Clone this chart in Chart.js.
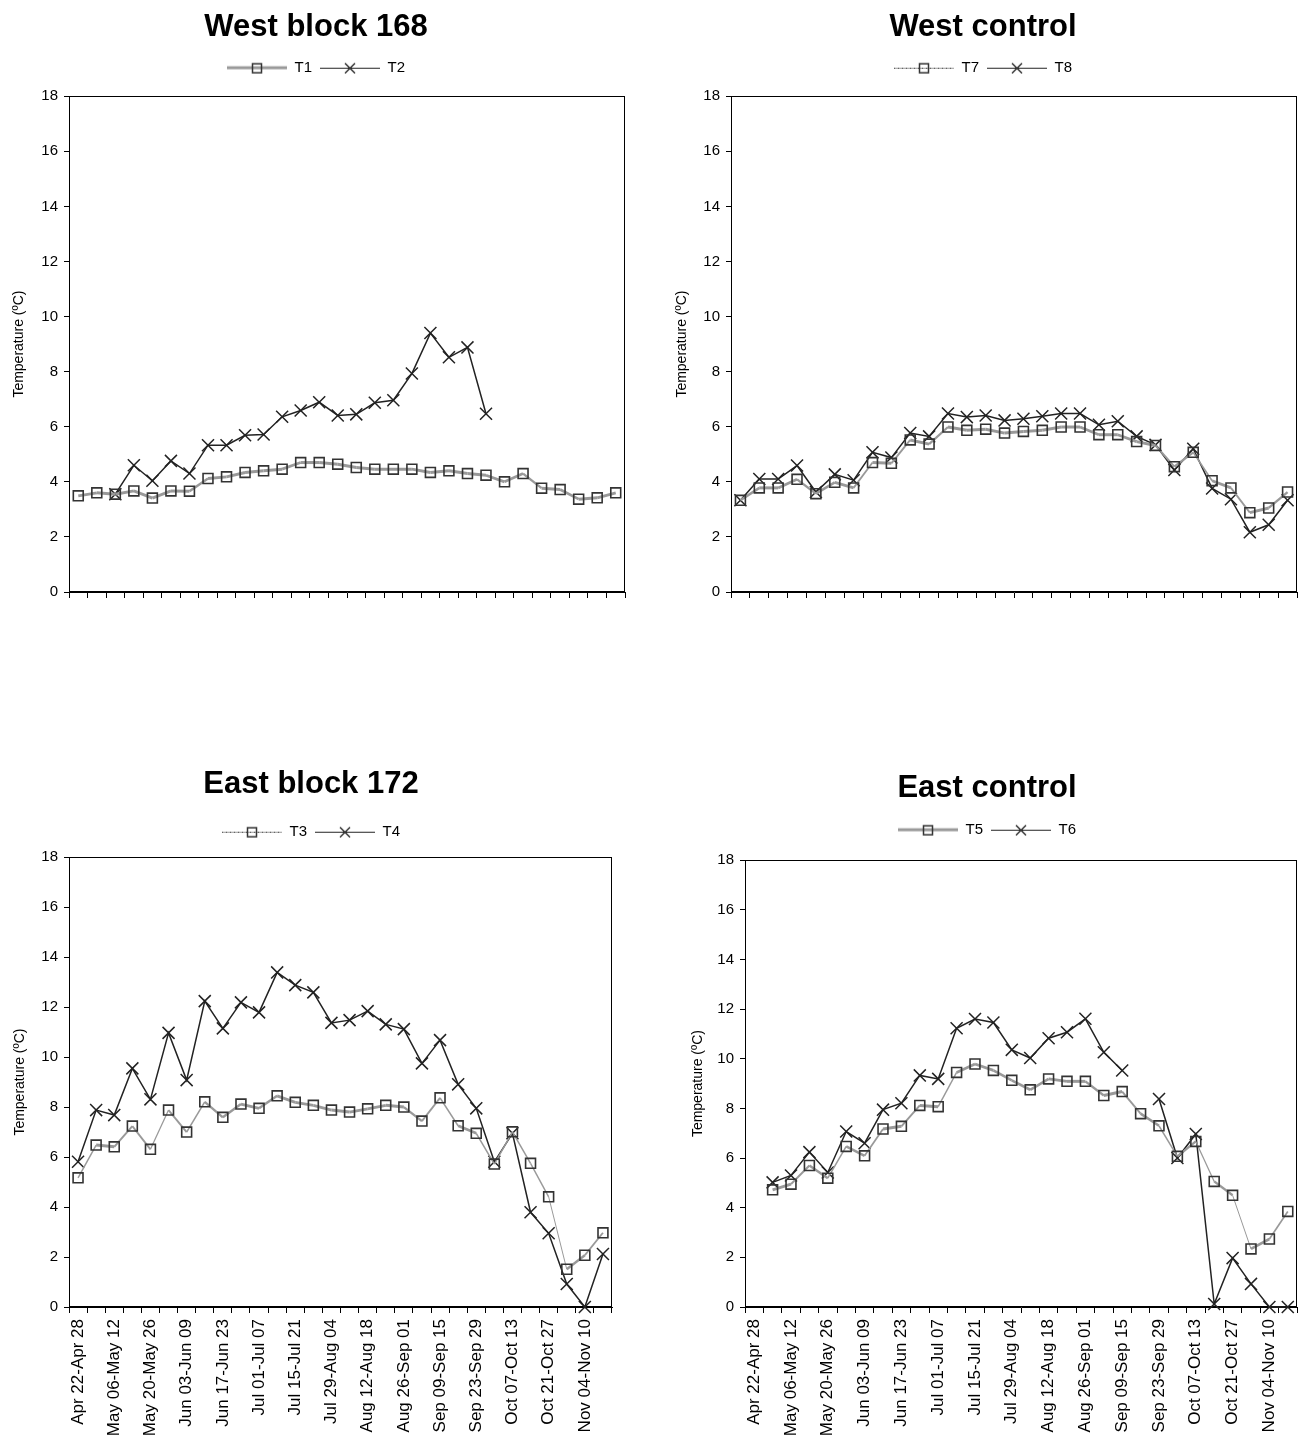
<!DOCTYPE html>
<html>
<head>
<meta charset="utf-8">
<title>Temperature by week</title>
<script src="https://cdn.jsdelivr.net/npm/chart.js@4.4.1/dist/chart.umd.min.js"></script>
<style>
  body { margin: 0; background: #fff; width: 1307px; height: 1437px; position: relative; overflow: hidden; }
  .panel { position: absolute; }
</style>
</head>
<body>
<div class="panel" style="left:0;top:0"><canvas id="westBlock" width="640" height="610"></canvas></div>
<div class="panel" style="left:660px;top:0"><canvas id="westControl" width="647" height="610"></canvas></div>
<div class="panel" style="left:0;top:760px"><canvas id="eastBlock" width="640" height="677"></canvas></div>
<div class="panel" style="left:660px;top:760px"><canvas id="eastControl" width="647" height="677"></canvas></div>
<script>
    // Weekly periods (30 weeks, every other one labelled on the bottom charts)
    const weeks = [
        'Apr 22-Apr 28', 'Apr 29-May 05', 'May 06-May 12', 'May 13-May 19', 'May 20-May 26',
        'May 27-Jun 02', 'Jun 03-Jun 09', 'Jun 10-Jun 16', 'Jun 17-Jun 23', 'Jun 24-Jun 30',
        'Jul 01-Jul 07', 'Jul 08-Jul 14', 'Jul 15-Jul 21', 'Jul 22-Jul 28', 'Jul 29-Aug 04',
        'Aug 05-Aug 11', 'Aug 12-Aug 18', 'Aug 19-Aug 25', 'Aug 26-Sep 01', 'Sep 02-Sep 08',
        'Sep 09-Sep 15', 'Sep 16-Sep 22', 'Sep 23-Sep 29', 'Sep 30-Oct 06', 'Oct 07-Oct 13',
        'Oct 14-Oct 20', 'Oct 21-Oct 27', 'Oct 28-Nov 03', 'Nov 04-Nov 10', 'Nov 11-Nov 17'
    ];

    const yTicks = [0, 2, 4, 6, 8, 10, 12, 14, 16, 18];

    // West block 168
    const t1 = [3.49, 3.60, 3.55, 3.67, 3.41, 3.67, 3.66, 4.12, 4.18, 4.34, 4.40, 4.46, 4.70, 4.70, 4.64,
                4.52, 4.46, 4.46, 4.46, 4.34, 4.40, 4.30, 4.24, 4.00, 4.30, 3.77, 3.72, 3.37, 3.42, 3.60];
    const t2 = [null, null, 3.55, 4.60, 4.04, 4.76, 4.30, 5.33, 5.33, 5.69, 5.72, 6.36, 6.59, 6.89, 6.41,
                6.45, 6.87, 6.96, 7.93, 9.40, 8.52, 8.88, 6.47, null, null, null, null, null, null, null];

    // West control
    const t7 = [3.33, 3.78, 3.78, 4.09, 3.57, 3.98, 3.78, 4.70, 4.67, 5.52, 5.37, 5.99, 5.87, 5.91, 5.77,
                5.83, 5.87, 5.99, 5.99, 5.71, 5.71, 5.46, 5.32, 4.55, 5.07, 4.04, 3.78, 2.88, 3.05, 3.63];
    const t8 = [3.33, 4.10, 4.10, 4.59, 3.63, 4.27, 4.06, 5.07, 4.88, 5.77, 5.65, 6.48, 6.35, 6.41, 6.23,
                6.29, 6.38, 6.48, 6.48, 6.07, 6.20, 5.65, 5.34, 4.43, 5.20, 3.76, 3.37, 2.17, 2.44, 3.33];

    // East block 172
    const t3 = [5.17, 6.48, 6.41, 7.24, 6.31, 7.88, 7.00, 8.21, 7.59, 8.12, 7.95, 8.45, 8.19, 8.07, 7.88,
                7.80, 7.93, 8.07, 8.00, 7.44, 8.37, 7.25, 6.95, 5.72, 7.01, 5.75, 4.41, 1.51, 2.07, 2.97];
    const t4 = [5.81, 7.88, 7.68, 9.55, 8.31, 10.97, 9.08, 12.24, 11.15, 12.19, 11.79, 13.39, 12.88, 12.59, 11.37,
                11.48, 11.84, 11.31, 11.12, 9.75, 10.68, 8.91, 7.95, 5.81, 6.95, 3.79, 2.95, 0.92, 0, 2.12];

    // East control
    const t5 = [null, 4.72, 4.95, 5.70, 5.19, 6.47, 6.09, 7.17, 7.28, 8.12, 8.07, 9.45, 9.79, 9.53, 9.13,
                8.75, 9.19, 9.09, 9.09, 8.52, 8.68, 7.79, 7.30, 6.07, 6.67, 5.06, 4.50, 2.34, 2.74, 3.85];
    const t6 = [null, 5.02, 5.30, 6.24, 5.42, 7.07, 6.60, 7.95, 8.21, 9.33, 9.19, 11.23, 11.60, 11.46, 10.36,
                10.03, 10.83, 11.07, 11.61, 10.26, 9.53, null, 8.38, 6.00, 6.97, 0.12, 1.97, 0.93, 0, 0];

    Chart.defaults.font.family = '"Liberation Sans", Arial, sans-serif';
    Chart.defaults.color = '#000';

    // small legend pictures: line sample with the marker in the middle
    function legendIcon(kind) {
        const c = document.createElement('canvas');
        c.width = 60;
        c.height = 16;
        const g = c.getContext('2d');
        if (kind === 'thick') {
            g.strokeStyle = '#999';
            g.lineWidth = 3;
            g.beginPath(); g.moveTo(0, 8); g.lineTo(60, 8); g.stroke();
        } else if (kind === 'dotted') {
            g.strokeStyle = '#999';
            g.lineWidth = 1;
            g.beginPath(); g.moveTo(0, 8.5); g.lineTo(60, 8.5); g.stroke();
            g.strokeStyle = '#333';
            g.setLineDash([1, 3]);
            g.beginPath(); g.moveTo(0, 8.5); g.lineTo(60, 8.5); g.stroke();
            g.setLineDash([]);
        } else {
            g.strokeStyle = '#222';
            g.lineWidth = 1;
            g.beginPath(); g.moveTo(0, 8.5); g.lineTo(60, 8.5); g.stroke();
        }
        g.strokeStyle = '#333';
        g.lineWidth = 1.5;
        if (kind === 'cross') {
            g.beginPath();
            g.moveTo(25, 3.5); g.lineTo(35, 13.5);
            g.moveTo(35, 3.5); g.lineTo(25, 13.5);
            g.stroke();
        } else {
            g.strokeRect(25.5, 4, 9, 9);
        }
        return c;
    }

    // excel-like gray line: thinner on steep segments
    function slopeWidth(ctx) {
        const dx = ctx.p1.x - ctx.p0.x;
        const dy = ctx.p1.y - ctx.p0.y;
        return Math.max(1, 3 * Math.abs(dx) / Math.hypot(dx, dy));
    }

    function squareSeries(label, data, icon) {
        return {
            label: label,
            data: data,
            icon: icon,
            borderColor: '#999',
            borderWidth: 3,
            segment: { borderWidth: slopeWidth },
            pointStyle: 'rect',
            pointRadius: 7,
            pointBorderColor: '#333',
            pointBackgroundColor: 'rgba(0,0,0,0)',
            pointBorderWidth: 1.6,
            tension: 0,
            clip: false
        };
    }

    function crossSeries(label, data) {
        return {
            label: label,
            data: data,
            icon: 'cross',
            borderColor: '#222',
            borderWidth: 1.5,
            pointStyle: 'crossRot',
            pointRadius: 8.5,
            pointBorderColor: '#222',
            pointBorderWidth: 1.5,
            tension: 0,
            clip: false
        };
    }

    const plotFrame = {
        id: 'plotFrame',
        beforeDatasetsDraw(chart) {
            const a = chart.chartArea;
            const ctx = chart.ctx;
            ctx.save();
            ctx.strokeStyle = '#000';
            ctx.lineWidth = 1;
            ctx.strokeRect(Math.round(a.left) + 0.5, Math.round(a.top) + 0.5,
                Math.round(a.right - a.left) - 1, Math.round(a.bottom - a.top) - 1);
            ctx.restore();
        }
    };

    // extra room under the legend, before the plot
    const legendGap = {
        id: 'legendGap',
        beforeInit(chart, args, opts) {
            const fit = chart.legend.fit;
            chart.legend.fit = function () {
                fit.call(this);
                this.height += opts.extra || 0;
            };
        }
    };

    function makeChart(id, title, datasets, o) {
        const icons = {};
        ['thick', 'dotted', 'cross'].forEach(k => icons[k] = legendIcon(k));
        return new Chart(document.getElementById(id), {
            type: 'line',
            data: { labels: weeks, datasets: datasets },
            plugins: [plotFrame, legendGap],
            options: {
                responsive: false,
                animation: false,
                events: [],
                layout: { padding: { left: o.padLeft, right: o.padRight, top: 0, bottom: o.padBottom } },
                plugins: {
                    legendGap: { extra: o.legendExtra },
                    tooltip: { enabled: false },
                    title: {
                        display: true,
                        text: title,
                        font: { size: 31, weight: 'bold' },
                        color: '#000',
                        padding: { top: o.titleTop, bottom: o.titleBottom }
                    },
                    legend: {
                        display: true,
                        labels: {
                            usePointStyle: true,
                            pointStyleWidth: 60,
                            boxHeight: 15,
                            padding: 8,
                            font: { size: 15 },
                            color: '#000',
                            generateLabels(chart) {
                                const items = Chart.defaults.plugins.legend.labels.generateLabels(chart);
                                items.forEach(it => {
                                    it.pointStyle = icons[chart.data.datasets[it.datasetIndex].icon];
                                });
                                return items;
                            }
                        }
                    }
                },
                scales: {
                    x: {
                        type: 'category',
                        offset: true,
                        grid: { offset: true, drawOnChartArea: false, drawTicks: true, tickLength: 6, color: '#000' },
                        border: { display: true, color: '#000', width: 1 },
                        ticks: {
                            display: o.xLabels,
                            autoSkip: false,
                            minRotation: 90,
                            maxRotation: 90,
                            padding: 6,
                            font: { size: 17 },
                            color: '#000',
                            callback: function (value, index) {
                                return index % 2 === 0 ? this.getLabelForValue(value) : '';
                            }
                        },
                        afterFit(scale) {
                            scale.height = o.xAxisHeight;
                            scale.paddingLeft = 0;
                            scale.paddingRight = 0;
                        }
                    },
                    y: {
                        min: 0,
                        max: 18,
                        afterBuildTicks(scale) { scale.ticks = yTicks.map(v => ({ value: v })); },
                        grid: { drawOnChartArea: false, drawTicks: true, tickLength: 5, color: '#000' },
                        border: { display: true, color: '#000', width: 1 },
                        ticks: { padding: 6, font: { size: 15 }, color: '#000' },
                        title: {
                            display: true,
                            text: 'Temperature (ºC)',
                            font: { size: 14 },
                            color: '#000',
                            padding: { top: o.yTitlePad, bottom: 0 }
                        },
                        afterFit(scale) {
                            scale.width = o.yAxisWidth;
                            scale.paddingTop = 0;
                            scale.paddingBottom = 0;
                        }
                    }
                }
            }
        });
    }

    makeChart('westBlock', 'West block 168',
        [squareSeries('T1', t1, 'thick'), crossSeries('T2', t2)],
        { padLeft: 7, padRight: 15, padBottom: 8, xAxisHeight: 10, yAxisWidth: 62, yTitlePad: 4,
          titleTop: 9, titleBottom: 6, legendExtra: 11, xLabels: false });

    makeChart('westControl', 'West control',
        [squareSeries('T7', t7, 'dotted'), crossSeries('T8', t8)],
        { padLeft: 5, padRight: 6, padBottom: 8, xAxisHeight: 10, yAxisWidth: 66, yTitlePad: 9,
          titleTop: 9, titleBottom: 6, legendExtra: 11, xLabels: false });

    makeChart('eastBlock', 'East block 172',
        [squareSeries('T3', t3, 'dotted'), crossSeries('T4', t4)],
        { padLeft: 10, padRight: 28, padBottom: 0, xAxisHeight: 130, yAxisWidth: 59, yTitlePad: 2,
          titleTop: 6, titleBottom: 13, legendExtra: 8, xLabels: true });

    makeChart('eastControl', 'East control',
        [squareSeries('T5', t5, 'thick'), crossSeries('T6', t6)],
        { padLeft: 14, padRight: 7, padBottom: 0, xAxisHeight: 130, yAxisWidth: 71, yTitlePad: 16,
          titleTop: 10, titleBottom: 7, legendExtra: 13, xLabels: true });
</script>
</body>
</html>
